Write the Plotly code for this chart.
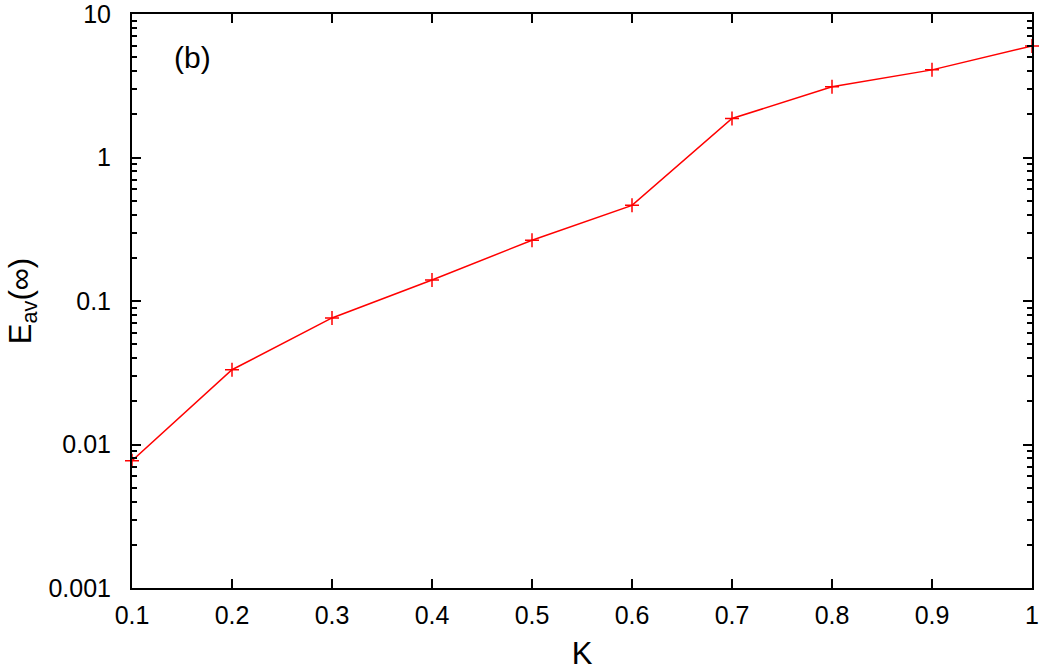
import plotly.graph_objects as go

k_values = [0.1, 0.2, 0.3, 0.4, 0.5, 0.6, 0.7, 0.8, 0.9, 1.0]
e_av = [0.0077, 0.0332, 0.0762, 0.140, 0.265, 0.464, 1.87, 3.11, 4.08, 5.99]
x_ticks = [0.1, 0.2, 0.3, 0.4, 0.5, 0.6, 0.7, 0.8, 0.9, 1]
x_tick_labels = ["0.1", "0.2", "0.3", "0.4", "0.5", "0.6", "0.7", "0.8", "0.9", "1"]
y_ticks = [0.001, 0.01, 0.1, 1, 10]
y_tick_labels = ["0.001", "0.01", "0.1", "1", "10"]

FONT = "Liberation Sans, Arial, sans-serif"

fig = go.Figure(go.Scatter(
    x=k_values, y=e_av, mode="lines+markers",
    line=dict(color="#ff0000", width=1.5),
    marker=dict(symbol="cross-thin", size=10, line=dict(color="#ff0000", width=1.5)),
    cliponaxis=False,
))

axis_common = dict(
    showline=True, linecolor="black", linewidth=2, mirror="ticks",
    ticks="inside", ticklen=9, tickwidth=1.5, tickcolor="black",
    showgrid=False, zeroline=False, automargin=False,
    ticklabeloverflow="allow",
    tickfont=dict(family=FONT, size=25, color="black"),
)

fig.update_xaxes(
    range=[0.1, 1.0], tickvals=x_ticks, ticktext=x_tick_labels,
    ticklabelstandoff=4,
    title=dict(text="K", font=dict(size=31, family=FONT, color="black"), standoff=20),
    **axis_common,
)
fig.update_yaxes(
    type="log", range=[-3, 1], tickvals=y_ticks, ticktext=y_tick_labels,
    ticklabelstandoff=14,
    minor=dict(ticks="inside", ticklen=5, tickwidth=1.5, tickcolor="black", dtick="D1"),
    title=dict(text="E<sub>av</sub>(∞)", font=dict(size=31, family=FONT, color="black"), standoff=8),
    **axis_common,
)

fig.add_annotation(
    x=0.067, y=0.924, xref="paper", yref="paper", text="(b)", showarrow=False,
    xanchor="center", yanchor="middle",
    font=dict(family=FONT, size=30, color="black"),
)

fig.update_layout(
    width=1039, height=671,
    margin=dict(l=132, r=7, t=14, b=83, autoexpand=False),
    plot_bgcolor="white", paper_bgcolor="white",
    showlegend=False,
)

fig.write_html("out.html", config={"displayModeBar": False},
               post_script="document.body.style.margin='0';")
